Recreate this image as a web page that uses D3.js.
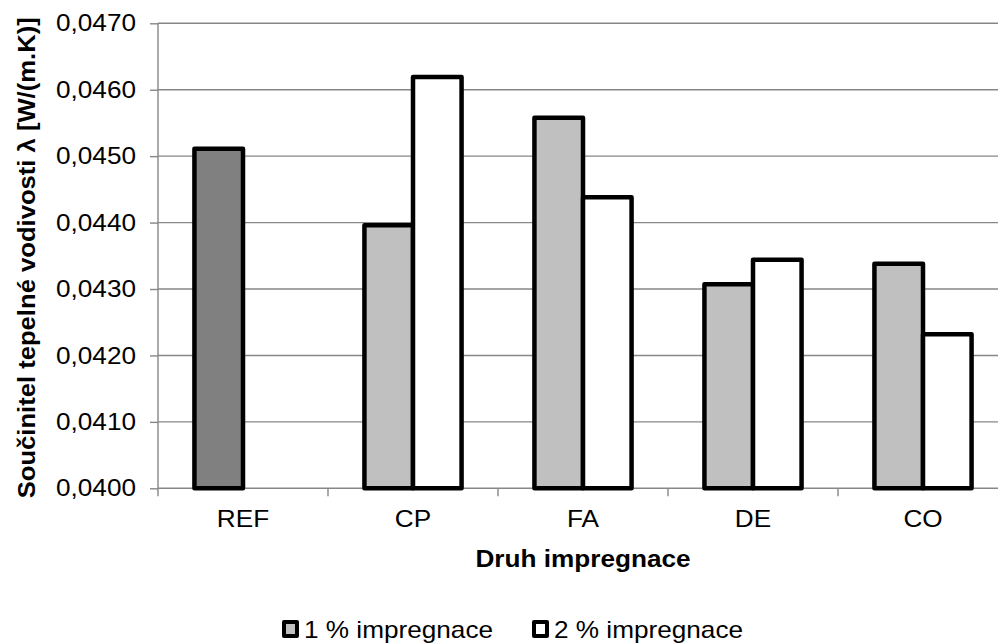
<!DOCTYPE html>
<html>
<head>
<meta charset="utf-8">
<script src="https://cdn.jsdelivr.net/npm/d3@7"></script>
<style>
  html, body { margin: 0; padding: 0; background: #fff; }
  svg { display: block; font-family: "Liberation Sans", Arial, sans-serif; }
</style>
</head>
<body>
<svg id="chart" width="998" height="644"></svg>
<script>
const categories = ["REF", "CP", "FA", "DE", "CO"];
const seriesNames = ["1 % impregnace", "2 % impregnace"];
const values1 = [0.04511, 0.04396, 0.04558, 0.04307, 0.04338];
const values2 = [null, 0.04619, 0.04438, 0.04344, 0.04232];
const yTicks = [0.040, 0.041, 0.042, 0.043, 0.044, 0.045, 0.046, 0.047];
const yTitle = "Součinitel tepelné vodivosti λ [W/(m.K)]";
const xTitle = "Druh impregnace";
const seriesColors = ["#C0C0C0", "#FFFFFF"];
const refColor = "#808080";

const svg = d3.select("#chart");
const pLeft = 158, pRight = 1008, pTop = 23.3, pBottom = 488.3;

const x = d3.scaleBand().domain(categories).range([pLeft, pRight]).padding(0);
const xs = d3.scaleBand().domain([0, 1]).range([0, x.bandwidth()]).paddingInner(0).paddingOuter(0.75);
const y = d3.scaleLinear().domain([0.040, 0.047]).range([pBottom, pTop]);

const fmt = v => d3.format(".4f")(v).replace(".", ",");
const gridColor = "#878787";

// gridlines
svg.append("g").selectAll("line").data(yTicks.filter(t => t > 0.040)).join("line")
  .attr("x1", pLeft).attr("x2", pRight)
  .attr("y1", d => y(d)).attr("y2", d => y(d))
  .attr("stroke", gridColor).attr("stroke-width", 1.4);

// y axis
const yAxis = svg.append("g").attr("transform", `translate(${pLeft},0)`)
  .call(d3.axisLeft(y).tickValues(yTicks).tickFormat(fmt).tickSize(8).tickPadding(14));
yAxis.select(".domain").remove();
yAxis.selectAll("line").attr("stroke", gridColor).attr("stroke-width", 1.4);
yAxis.selectAll("text").attr("font-size", 24).attr("fill", "#000")
  .attr("font-family", "'Liberation Sans', Arial, sans-serif");
svg.append("line").attr("x1", pLeft).attr("x2", pLeft).attr("y1", pTop).attr("y2", pBottom + 8)
  .attr("stroke", gridColor).attr("stroke-width", 1.4);

// x axis
svg.append("line").attr("x1", pLeft).attr("x2", pRight).attr("y1", pBottom).attr("y2", pBottom)
  .attr("stroke", gridColor).attr("stroke-width", 1.4);
const xAxis = svg.append("g").attr("transform", `translate(0,${pBottom})`)
  .call(d3.axisBottom(x).tickSize(0).tickPadding(22));
xAxis.select(".domain").remove();
xAxis.selectAll("text").attr("font-size", 24).attr("fill", "#000")
  .attr("font-family", "'Liberation Sans', Arial, sans-serif");
// category boundary ticks
svg.append("g").selectAll("line").data(categories).join("line")
  .attr("x1", d => x(d) + x.step())
  .attr("x2", d => x(d) + x.step())
  .attr("y1", pBottom).attr("y2", pBottom + 8)
  .attr("stroke", gridColor).attr("stroke-width", 1.4);

// bars
const barData = [];
categories.forEach((c, i) => {
  if (values1[i] != null) barData.push({ c, s: 0, v: values1[i], fill: c === "REF" ? refColor : seriesColors[0] });
  if (values2[i] != null) barData.push({ c, s: 1, v: values2[i], fill: seriesColors[1] });
});
svg.append("g").selectAll("rect").data(barData).join("rect")
  .attr("x", d => x(d.c) + xs(d.s))
  .attr("width", xs.bandwidth())
  .attr("y", d => y(d.v))
  .attr("height", d => y(0.040) - y(d.v))
  .attr("fill", d => d.fill)
  .attr("stroke", "#000").attr("stroke-width", 4.5)
  .attr("stroke-linejoin", "round");

// axis titles
svg.append("text")
  .attr("transform", `translate(35,${(pTop + pBottom) / 2 + 2}) rotate(-90)`)
  .attr("text-anchor", "middle").attr("font-size", 23.5).attr("font-weight", "bold")
  .text(yTitle);
svg.append("text")
  .attr("x", (pLeft + pRight) / 2).attr("y", 567)
  .attr("text-anchor", "middle").attr("font-size", 24).attr("font-weight", "bold")
  .text(xTitle);

// legend
const legendX = [282, 532];
const leg = svg.append("g").selectAll("g").data(seriesNames).join("g")
  .attr("transform", (d, i) => `translate(${legendX[i]},0)`);
leg.append("rect").attr("x", 2).attr("y", 622).attr("width", 13).attr("height", 14)
  .attr("fill", (d, i) => seriesColors[i]).attr("stroke", "#000").attr("stroke-width", 4)
  .attr("stroke-linejoin", "round");
leg.append("text").attr("x", 22).attr("y", 638).attr("font-size", 24).text(d => d);

// widen glyph spacing slightly to match the reference's text widths
svg.selectAll("text").each(function () {
  const l = this.getComputedTextLength();
  d3.select(this).attr("textLength", l * 1.09).attr("lengthAdjust", "spacingAndGlyphs");
});
</script>
</body>
</html>
